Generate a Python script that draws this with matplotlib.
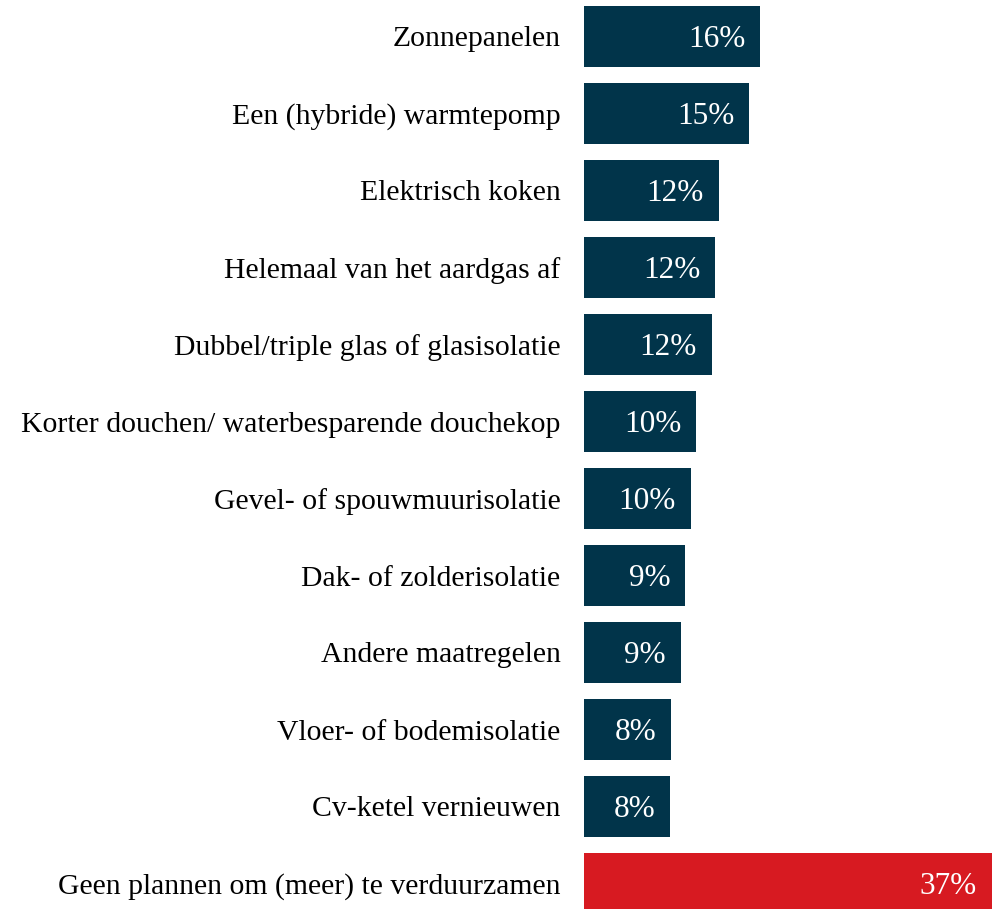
import matplotlib.pyplot as plt

plt.rcParams['font.family'] = ['Liberation Serif', 'DejaVu Serif']

categories = [
    "Zonnepanelen",
    "Een (hybride) warmtepomp",
    "Elektrisch koken",
    "Helemaal van het aardgas af",
    "Dubbel/triple glas of glasisolatie",
    "Korter douchen/ waterbesparende douchekop",
    "Gevel- of spouwmuurisolatie",
    "Dak- of zolderisolatie",
    "Andere maatregelen",
    "Vloer- of bodemisolatie",
    "Cv-ketel vernieuwen",
    "Geen plannen om (meer) te verduurzamen",
]
percentages = [16.0, 15.0, 12.2, 11.9, 11.6, 10.2, 9.7, 9.2, 8.8, 7.9, 7.8, 37.0]

NAVY = "#01344a"
RED = "#d71a21"
colors = [NAVY] * (len(categories) - 1) + [RED]

fig = plt.figure(figsize=(9.92, 9.09), dpi=100)
ax = fig.add_axes([584 / 992, 0, 1 - 584 / 992, 1])

y = list(range(len(categories)))
ax.barh(y, percentages, height=61 / 77, color=colors)

# value labels inside the bar ends
for yi, val in zip(y, percentages):
    ax.annotate(f"{val:.0f}%", xy=(val, yi), xytext=(-15, -3),
                textcoords="offset pixels", ha="right", va="center",
                color="white", fontsize=22.5)

ax.set_xlim(0, 37)
ax.set_ylim((909 - 36.5) / 77, -36.5 / 77)
ax.set_yticks(y)
ax.set_yticklabels(categories, fontsize=21.4)
ax.tick_params(axis="y", length=0, pad=17)
ax.set_xticks([])
for s in ax.spines.values():
    s.set_visible(False)

fig.savefig("out.png", dpi=100)
